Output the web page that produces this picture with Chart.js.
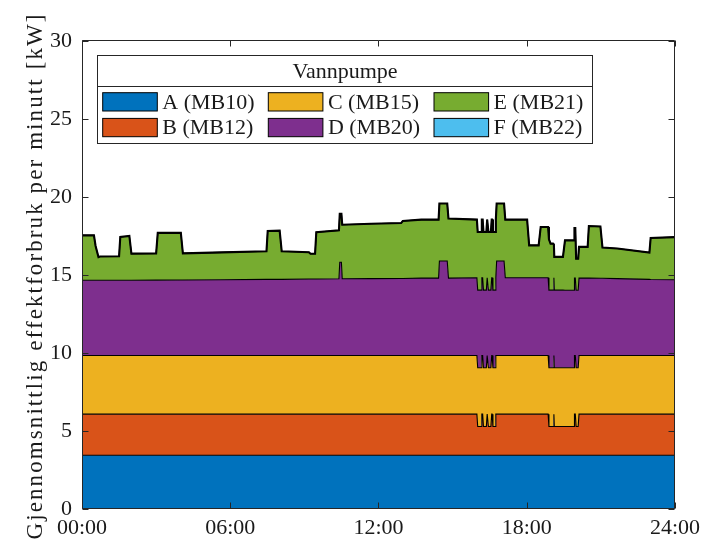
<!DOCTYPE html>
<html>
<head>
<meta charset="utf-8">
<title>Vannpumpe – effektforbruk</title>
<script src="https://cdn.jsdelivr.net/npm/chart.js@4"></script>
<style>
  html, body { margin: 0; padding: 0; background: #fff; }
  #wrap { width: 706px; height: 547px; }
</style>
</head>
<body>
<div id="wrap"><canvas id="c" width="706" height="547"></canvas></div>
<script>
// Time of day in minutes after midnight (shared by all series)
const minutes = [
  0, 29, 33, 40, 44, 90, 93, 115, 120, 180,
  184, 240, 245, 340, 448, 451, 480, 485, 551, 555,
  566, 569, 624, 626, 630, 632, 702, 775, 779, 824,
  866, 868, 887, 890, 959, 961, 969, 971, 973, 975,
  982, 984, 985, 987, 993, 995, 996, 998, 1003, 1005,
  1007, 1025, 1028, 1081, 1086, 1109, 1114, 1132, 1134, 1138,
  1144, 1146, 1147, 1168, 1173, 1195, 1196, 1198, 1200, 1205,
  1207, 1228, 1231, 1259, 1264, 1300, 1378, 1381, 1440
];

// Average power per minute [kW] for each pump
const pumpA = [
  3.45, 3.45, 3.45, 3.45, 3.45, 3.45, 3.45, 3.45, 3.45, 3.45,
  3.45, 3.45, 3.45, 3.45, 3.45, 3.45, 3.45, 3.45, 3.45, 3.45,
  3.45, 3.45, 3.45, 3.45, 3.45, 3.45, 3.45, 3.45, 3.45, 3.45,
  3.45, 3.45, 3.45, 3.45, 3.45, 3.45, 3.45, 3.45, 3.45, 3.45,
  3.45, 3.45, 3.45, 3.45, 3.45, 3.45, 3.45, 3.45, 3.45, 3.45,
  3.45, 3.45, 3.45, 3.45, 3.45, 3.45, 3.45, 3.45, 3.45, 3.45,
  3.45, 3.45, 3.45, 3.45, 3.45, 3.45, 3.45, 3.45, 3.45, 3.45,
  3.45, 3.45, 3.45, 3.45, 3.45, 3.45, 3.45, 3.45, 3.45
];
const pumpB = [
  2.63, 2.63, 2.63, 2.63, 2.63, 2.63, 2.63, 2.63, 2.63, 2.63,
  2.63, 2.63, 2.63, 2.63, 2.63, 2.63, 2.63, 2.63, 2.63, 2.63,
  2.63, 2.63, 2.63, 2.63, 2.63, 2.63, 2.63, 2.63, 2.63, 2.63,
  2.63, 2.63, 2.63, 2.63, 2.63, 1.84, 1.84, 2.63, 2.63, 1.84,
  1.84, 2.63, 2.63, 1.84, 1.84, 2.63, 2.63, 1.84, 1.84, 2.63,
  2.63, 2.63, 2.63, 2.63, 2.63, 2.63, 2.63, 2.63, 1.84, 1.84,
  1.84, 2.63, 1.84, 1.84, 1.84, 1.84, 2.63, 2.63, 1.84, 1.84,
  2.63, 2.63, 2.63, 2.63, 2.63, 2.63, 2.63, 2.63, 2.63
];
const pumpC = [
  3.76, 3.76, 3.76, 3.76, 3.76, 3.76, 3.76, 3.76, 3.76, 3.76,
  3.76, 3.76, 3.76, 3.76, 3.76, 3.76, 3.76, 3.76, 3.76, 3.76,
  3.76, 3.76, 3.76, 3.76, 3.76, 3.76, 3.76, 3.76, 3.76, 3.76,
  3.76, 3.76, 3.76, 3.76, 3.76, 3.76, 3.76, 3.76, 3.76, 3.76,
  3.76, 3.76, 3.76, 3.76, 3.76, 3.76, 3.76, 3.76, 3.76, 3.76,
  3.76, 3.76, 3.76, 3.76, 3.76, 3.76, 3.76, 3.76, 3.76, 3.76,
  3.76, 3.76, 3.76, 3.76, 3.76, 3.76, 3.76, 3.76, 3.76, 3.76,
  3.76, 3.76, 3.76, 3.76, 3.76, 3.76, 3.76, 3.76, 3.76
];
const pumpD = [
  4.82, 4.82, 4.82, 4.82, 4.82, 4.82, 4.82, 4.82, 4.82, 4.83,
  4.83, 4.84, 4.84, 4.86, 4.88, 4.88, 4.88, 4.88, 4.90, 4.90,
  4.90, 4.90, 4.92, 5.98, 5.98, 4.92, 4.93, 4.94, 4.94, 4.96,
  4.96, 6.06, 6.06, 4.96, 4.98, 4.98, 4.98, 4.98, 4.98, 4.98,
  4.98, 4.98, 4.98, 4.98, 4.98, 4.98, 4.98, 4.98, 4.98, 4.98,
  6.06, 6.06, 4.98, 4.98, 4.98, 4.98, 4.98, 4.98, 4.98, 4.98,
  4.98, 4.98, 4.98, 4.98, 4.97, 4.97, 4.97, 4.97, 4.97, 4.97,
  4.96, 4.96, 4.96, 4.95, 4.95, 4.93, 4.88, 4.87, 4.86
];
const pumpE = [
  2.88, 2.88, 2.20, 1.49, 1.53, 1.54, 2.78, 2.84, 1.71, 1.71,
  3.03, 3.03, 1.71, 1.75, 1.80, 3.10, 3.12, 1.80, 1.72, 1.62,
  1.62, 3.00, 3.10, 3.10, 3.10, 3.46, 3.52, 3.55, 3.68, 3.75,
  3.75, 3.68, 3.68, 3.82, 3.73, 3.73, 3.73, 3.73, 3.73, 3.73,
  3.73, 3.73, 3.73, 3.73, 3.73, 3.73, 3.73, 3.73, 3.73, 3.73,
  3.68, 3.68, 3.73, 3.73, 2.08, 2.08, 3.26, 3.26, 3.26, 2.98,
  2.98, 2.13, 2.13, 2.13, 3.20, 3.20, 3.20, 3.20, 2.03, 2.03,
  2.00, 2.00, 3.34, 3.32, 1.97, 1.93, 1.72, 2.66, 2.73
];
const pumpF = [
  0, 0, 0, 0, 0, 0, 0, 0, 0, 0,
  0, 0, 0, 0, 0, 0, 0, 0, 0, 0,
  0, 0, 0, 0, 0, 0, 0, 0, 0, 0,
  0, 0, 0, 0, 0, 0, 0, 0, 0, 0,
  0, 0, 0, 0, 0, 0, 0, 0, 0, 0,
  0, 0, 0, 0, 0, 0, 0, 0, 0, 0,
  0, 0, 0, 0, 0, 0, 0, 0, 0, 0,
  0, 0, 0, 0, 0, 0, 0, 0, 0
];

const seriesNames = ['A (MB10)', 'B (MB12)', 'C (MB15)', 'D (MB20)', 'E (MB21)', 'F (MB22)'];
const seriesColors = ['#0072BD', '#D95319', '#EDB120', '#7E2F8E', '#77AC30', '#4DBEEE'];
const xTickLabels = ['00:00', '06:00', '12:00', '18:00', '24:00'];
const legendTitle = 'Vannpumpe';
const yAxisTitle = 'Gjennomsnittlig effektforbruk per minutt [kW]';

const SERIF = '"Liberation Serif", "Times New Roman", serif';
const INK = '#1a1a1a';
const AXIS = '#262626';

Chart.defaults.font.family = SERIF;
Chart.defaults.font.size = 22;
Chart.defaults.color = INK;

const allSeries = [pumpA, pumpB, pumpC, pumpD, pumpE, pumpF];
const datasets = allSeries.map((vals, i) => ({
  label: seriesNames[i],
  data: minutes.map((m, k) => ({ x: m, y: vals[k] })),
  backgroundColor: seriesColors[i],
  borderColor: '#000',
  borderWidth: i === 5 ? 2.1 : 1.1,
  fill: i === 0 ? 'origin' : '-1',
  pointRadius: 0,
  tension: 0
}));

// Box around the axes with inward ticks on all four sides
const axesFrame = {
  id: 'axesFrame',
  afterDatasetsDraw(chart) {
    const { ctx, chartArea: a, scales } = chart;
    const L = Math.round(a.left) + 0.5, R = Math.round(a.right) - 0.5;
    const T = Math.round(a.top) - 0.5, B = Math.round(a.bottom) - 0.5;
    const tick = 6;
    ctx.save();
    ctx.strokeStyle = AXIS;
    ctx.lineWidth = 1;
    ctx.beginPath();
    ctx.rect(L, T, R - L, B - T);
    scales.x.ticks.forEach(t => {
      const px = Math.round(scales.x.getPixelForValue(t.value)) + 0.5;
      ctx.moveTo(px, B); ctx.lineTo(px, B - tick);
      ctx.moveTo(px, T); ctx.lineTo(px, T + tick);
    });
    scales.y.ticks.forEach(t => {
      const py = Math.round(scales.y.getPixelForValue(t.value)) + 0.5;
      ctx.moveTo(L, py); ctx.lineTo(L + tick, py);
      ctx.moveTo(R, py); ctx.lineTo(R - tick, py);
    });
    ctx.stroke();
    ctx.restore();
  },
  afterDraw(chart) {
    const { ctx } = chart;
    ctx.save();

    // vertical axis title
    ctx.translate(41.7, 276);
    ctx.rotate(-Math.PI / 2);
    ctx.font = '23px ' + SERIF;
    ctx.fillStyle = INK;
    ctx.textAlign = 'center';
    ctx.textBaseline = 'alphabetic';
    if ('letterSpacing' in ctx) ctx.letterSpacing = '2.1px';
    ctx.fillText(yAxisTitle, 0, 0);
    ctx.restore();

    // legend box with title row, three columns of two entries
    ctx.save();
    const bx = 97.5, by = 55.5, bw = 495, bh = 88, sepY = 86.5;
    ctx.fillStyle = '#fff';
    ctx.fillRect(bx, by, bw, bh);
    ctx.strokeStyle = AXIS;
    ctx.lineWidth = 1;
    ctx.strokeRect(bx, by, bw, bh);
    ctx.beginPath();
    ctx.moveTo(bx, sepY); ctx.lineTo(bx + bw, sepY);
    ctx.stroke();

    ctx.font = '22px ' + SERIF;
    ctx.fillStyle = INK;
    ctx.textAlign = 'center';
    ctx.textBaseline = 'alphabetic';
    ctx.fillText(legendTitle, bx + bw / 2, 77.5);

    const colX = [102.7, 268.3, 434];
    const rowTop = [92.7, 118.4];
    const rowBase = [108.5, 134.2];
    const sw = 54.6, sh = 18.3;
    ctx.textAlign = 'left';
    chart.data.datasets.forEach((ds, i) => {
      const c = Math.floor(i / 2), r = i % 2;
      ctx.fillStyle = ds.backgroundColor;
      ctx.fillRect(colX[c], rowTop[r], sw, sh);
      ctx.strokeStyle = '#000';
      ctx.lineWidth = 1;
      ctx.strokeRect(colX[c], rowTop[r], sw, sh);
      ctx.fillStyle = INK;
      ctx.fillText(ds.label, colX[c] + sw + 5, rowBase[r]);
    });
    ctx.restore();
  }
};

new Chart(document.getElementById('c'), {
  type: 'line',
  data: { datasets },
  options: {
    responsive: false,
    animation: false,
    devicePixelRatio: 1,
    layout: { padding: { top: 41, right: 30, bottom: 0, left: 0 } },
    plugins: {
      legend: { display: false },
      tooltip: { enabled: false },
      filler: { drawTime: 'beforeDatasetsDraw' }
    },
    elements: { point: { radius: 0 }, line: { tension: 0 } },
    scales: {
      x: {
        type: 'linear',
        min: 0,
        max: 1440,
        grid: { display: false, drawTicks: false },
        border: { display: false },
        ticks: {
          stepSize: 360,
          autoSkip: false,
          maxRotation: 0,
          padding: 6,
          color: INK,
          callback: (v, i) => xTickLabels[i]
        },
        afterFit(s) { s.height = 38; }
      },
      y: {
        min: 0,
        max: 30,
        stacked: true,
        grid: { display: false, drawTicks: false },
        border: { display: false },
        ticks: { stepSize: 5, padding: 10, color: INK },
        afterFit(s) { s.width = 82; }
      }
    }
  },
  plugins: [axesFrame]
});
</script>
</body>
</html>
